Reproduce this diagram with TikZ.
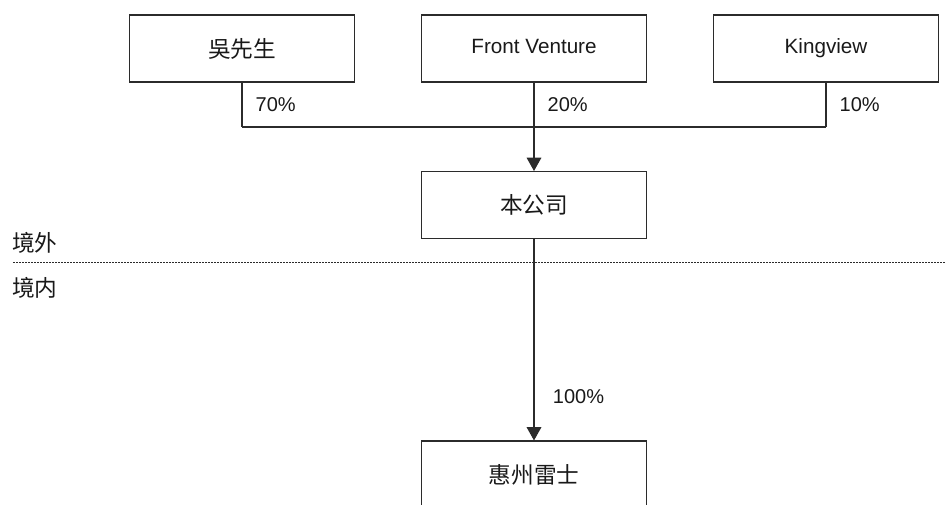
\documentclass[tikz,border=0pt]{standalone}
\usepackage{fontspec}
\setmainfont{Liberation Sans}
\newfontfamily\cjk{Noto Sans CJK SC}
\usepackage{tikz}
\usetikzlibrary{arrows.meta}
\usepackage{xcolor}
\definecolor{inkgray}{HTML}{2B2B2B}
\tikzstyle{holder} = [rectangle, minimum width=168.75pt, minimum height=50.25pt,
inner sep=0pt, text centered, draw=inkgray, line width=0.8pt, text=black!90,
font=\cjk\fontsize{17}{20}\selectfont]
\tikzstyle{latin} = [font=\fontsize{15.5}{18}\selectfont, text height=11.2pt, text depth=3.3pt]
\tikzstyle{link} = [draw=inkgray, line width=0.8pt]
\tikzstyle{arrow} = [link, -{Triangle[width=11pt,length=10pt]}]
\tikzstyle{share} = [right, xshift=6.5pt, text=black!90, font=\fontsize{15}{18}\selectfont]
\tikzstyle{zone} = [anchor=west, inner sep=0pt, text=black!90, font=\cjk\fontsize{17}{20}\selectfont]

\begin{document}
\begin{tikzpicture}[x=0.75pt, y=-0.75pt, node distance=219pt]
  \useasboundingbox (0,0) rectangle (946,505);
  % Shareholders
  \node (wu) [holder] at (242,48.5) {吳先生};
  \node (front) [holder, latin, right of=wu] {Front Venture};
  \node (king) [holder, latin, right of=front] {Kingview};
  % Company and subsidiary
  \node (firm) [holder, below of=front, node distance=117.4pt] {本公司};
  \node (hui) [holder, below of=firm, node distance=202.1pt] {惠州雷士};
  \coordinate (bar) at (0,127);
  % Border line
  \draw [inkgray, line width=0.5pt, dash pattern=on 1.5pt off 0.75pt] (13,262) -- (946,262);
  \node (abroad) [zone] at (12,243) {境外};
  \node (home) [zone] at (12,288) {境内};
  % Connections
  \draw [link] (wu.south) -- (wu.south |- bar) node[midway, share] {70\%};
  \draw [link] (king.south) -- (king.south |- bar) node[midway, share] {10\%};
  \draw [link] (wu.south |- bar) -- (king.south |- bar);
  \draw [link] (front.south) -- (front.south |- bar) node[midway, share] {20\%};
  \draw [arrow] (front.south |- bar) -- (firm.north);
  \draw [arrow] (firm.south) -- (hui.north) node[pos=0.78, share, xshift=4pt] {100\%};
\end{tikzpicture}
\end{document}
